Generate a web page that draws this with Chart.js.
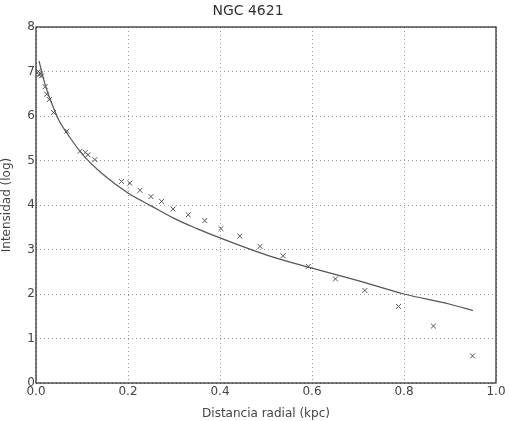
<!DOCTYPE html>
<html>
<head>
<meta charset="utf-8">
<script src="https://cdn.jsdelivr.net/npm/chart.js@4"></script>
<style>
  html, body { margin: 0; padding: 0; background: #fff; }
  #wrap { width: 509px; height: 421px; }
</style>
</head>
<body>
<div id="wrap"><canvas id="c" width="509" height="421"></canvas></div>
<script>
// puntos medidos (x en kpc, intensidad log)
const obsX = [0.005, 0.007, 0.009, 0.012, 0.02, 0.023, 0.029, 0.038, 0.067, 0.096, 0.107, 0.113, 0.128,
              0.186, 0.204, 0.226, 0.25, 0.273, 0.298, 0.331, 0.367, 0.402, 0.443, 0.487, 0.537,
              0.592, 0.651, 0.715, 0.788, 0.864, 0.949];
const obsY = [7.0, 6.92, 6.96, 6.9, 6.66, 6.49, 6.37, 6.08, 5.66, 5.21, 5.18, 5.13, 5.02,
              4.53, 4.49, 4.33, 4.19, 4.08, 3.91, 3.78, 3.65, 3.47, 3.3, 3.07, 2.86,
              2.62, 2.34, 2.08, 1.72, 1.28, 0.61];

// curva ajustada
const fitX = [0.0065, 0.02, 0.03, 0.05, 0.075, 0.1, 0.15, 0.2, 0.25, 0.3, 0.35, 0.4, 0.5, 0.6, 0.7, 0.8, 0.9, 0.95];
const fitY = [7.24, 6.7, 6.4, 5.9, 5.5, 5.15, 4.65, 4.27, 3.98, 3.7, 3.47, 3.26, 2.88, 2.58, 2.3, 2.0, 1.77, 1.63];

const xTicks = [0, 0.2, 0.4, 0.6, 0.8, 1.0];
const yTicks = [0, 1, 2, 3, 4, 5, 6, 7, 8];

const frame = {
  id: 'frame',
  afterDatasetsDraw(chart) {
    const a = chart.chartArea, ctx = chart.ctx;
    ctx.save();
    ctx.strokeStyle = '#222';
    ctx.lineWidth = 1.2;
    ctx.strokeRect(a.left, a.top, a.right - a.left, a.bottom - a.top);
    ctx.restore();
  }
};

const textColor = '#444';

new Chart(document.getElementById('c').getContext('2d'), {
  type: 'scatter',
  data: {
    datasets: [
      {
        label: 'ajuste',
        type: 'line',
        data: fitX.map((x, i) => ({ x: x, y: fitY[i] })),
        borderColor: '#555',
        borderWidth: 1.2,
        pointRadius: 0,
        cubicInterpolationMode: 'monotone',
        fill: false
      },
      {
        label: 'datos',
        data: obsX.map((x, i) => ({ x: x, y: obsY[i] })),
        pointStyle: 'crossRot',
        pointRadius: 3.5,
        borderColor: '#555',
        borderWidth: 1,
        backgroundColor: '#555'
      }
    ]
  },
  options: {
    responsive: false,
    animation: false,
    layout: { padding: { left: 0, right: 13, top: 0, bottom: 0 } },
    plugins: {
      legend: { display: false },
      tooltip: { enabled: false },
      title: {
        display: true,
        text: 'NGC 4621',
        color: '#333',
        font: { family: 'DejaVu Sans', size: 14, weight: 'normal' },
        padding: { top: 3, bottom: 7.2 }
      }
    },
    scales: {
      x: {
        type: 'linear',
        min: 0, max: 1.0,
        afterBuildTicks(s) { s.ticks = xTicks.map(v => ({ value: v })); },
        afterFit(s) { s.height = 38; },
        ticks: {
          color: textColor,
          font: { family: 'DejaVu Sans', size: 12 },
          padding: 2,
          callback: v => v.toFixed(1)
        },
        grid: { color: '#999', lineWidth: 1, drawTicks: false },
        border: { display: false, dash: [1, 3] },
        title: {
          display: true,
          text: 'Distancia radial (kpc)',
          color: textColor,
          font: { family: 'DejaVu Sans', size: 12 },
          padding: { top: 2, bottom: 0 }
        }
      },
      y: {
        type: 'linear',
        min: 0, max: 8,
        afterBuildTicks(s) { s.ticks = yTicks.map(v => ({ value: v })); },
        afterFit(s) { s.width = 36; },
        ticks: {
          color: textColor,
          font: { family: 'DejaVu Sans', size: 12 },
          padding: 1
        },
        grid: { color: '#999', lineWidth: 1, drawTicks: false },
        border: { display: false, dash: [1, 3] },
        title: {
          display: true,
          text: 'Intensidad (log)',
          color: textColor,
          font: { family: 'DejaVu Sans', size: 12 },
          padding: { top: 0, bottom: 2 }
        }
      }
    }
  },
  plugins: [frame]
});
</script>
</body>
</html>
